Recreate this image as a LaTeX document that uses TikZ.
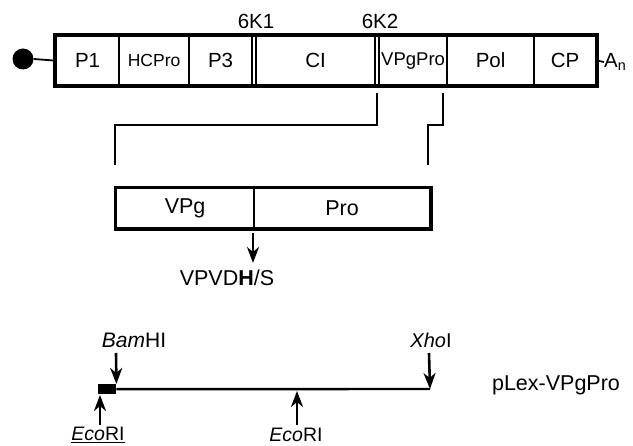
\documentclass[tikz,border=0pt]{standalone}
\usepackage{fontspec}
\setmainfont{Liberation Sans}
\usetikzlibrary{arrows.meta}
\tikzset{
  seg/.style={draw, line width=2.2pt, minimum height=49pt, inner sep=0pt, anchor=north west, font=\fontsize{20.5}{24}\selectfont},
  lbl/.style={inner sep=0pt, font=\fontsize{20.5}{24}\selectfont},
  conn/.style={line width=1.8pt},
  cut/.style={line width=2.6pt, -{Stealth[length=16pt,width=12pt,inset=5pt]}},
}
\begin{document}
\begin{tikzpicture}[x=1pt,y=-1pt]
\useasboundingbox (0,0) rectangle (633,446);
% genome bar
\node[seg, minimum width=63pt] (p1) at (55,35) {P1};
\node[seg, minimum width=70pt, font=\fontsize{17.5}{20}\selectfont] (hc) at (118,35) {HCPro};
\node[seg, minimum width=63pt] (p3) at (188,35) {P3};
\node[seg, minimum width=4pt] (k1) at (251,35) {};
\node[seg, minimum width=119pt] (ci) at (255,35) {CI};
\node[seg, minimum width=4pt] (k2) at (374,35) {};
\node[seg, minimum width=68pt, font=\fontsize{18.5}{21}\selectfont] (vp) at (378,35) {VPgPro};
\node[seg, minimum width=87pt] (pol) at (446,35) {Pol};
\node[seg, minimum width=62pt] (cp) at (533,35) {CP};
\draw[line width=3.2pt] (p1.north west) rectangle (cp.south east);
\node[lbl] (l6k1) at (256,21) {6K1};
\node[lbl] (l6k2) at (380,21) {6K2};
% cap and tail
\node[circle, fill=black, minimum size=21pt, inner sep=0pt] (cap) at (23,59) {};
\draw[conn] (cap.east) -- (p1.west);
\node[lbl, anchor=west] (an) at (604,62) {A\textsubscript{n}};
\draw[conn] (cp.east) -- (an.west);
% expansion lines
\coordinate (a1) at (377,93);
\coordinate (a2) at (115,165);
\coordinate (b1) at (443,93);
\coordinate (b2) at (428,165);
\draw[conn] (a1) |- (115,125) -- (a2);
\draw[conn] (b1) |- (428,125) -- (b2);
% VPg/Pro box
\node[seg, minimum width=138pt, minimum height=40pt, font=\fontsize{21.5}{25}\selectfont] (vpg) at (115,187) {VPg};
\node[seg, minimum width=176pt, minimum height=40pt, font=\fontsize{21.5}{25}\selectfont] (pro) at (253,187) {Pro};
\draw[line width=2.8pt] (vpg.north west) rectangle (pro.south east);
\coordinate (cs) at (253,233);
\node[lbl, font=\fontsize{21.5}{25}\selectfont] (site) at (227,278) {VPVD\textbf{H}/S};
\draw[cut] (cs) -- (253,263);
% plasmid
\node[fill=black, minimum width=18pt, minimum height=10pt, inner sep=0pt, anchor=north west] (ins) at (98,384) {};
\coordinate (xend) at (430,389);
\draw[line width=2.4pt] (ins.east) -- (xend);
\node[lbl, font=\fontsize{21}{25}\selectfont] (bam) at (134,340) {\textit{Bam}HI};
\node[lbl, font=\fontsize{20}{24}\selectfont] (xho) at (431,340) {\textit{Xho}I};
\node[lbl, font=\fontsize{19.5}{23}\selectfont] (eco1) at (98,435) {\underline{\textit{Eco}RI}};
\node[lbl, font=\fontsize{19.5}{23}\selectfont] (eco2) at (296,435) {\textit{Eco}RI};
\node[lbl, font=\fontsize{21.5}{25}\selectfont] (plex) at (556,385) {pLex-VPgPro};
\coordinate (bt) at (116,353);
\coordinate (xt) at (429,353);
\coordinate (e1) at (100,425);
\coordinate (e2) at (297,425);
\draw[cut] (bt) -- (ins.north east);
\draw[cut] (xt) -- (xend);
\draw[cut] (e1) -- (100,395);
\draw[cut] (e2) -- (297,391);
\end{tikzpicture}
\end{document}
